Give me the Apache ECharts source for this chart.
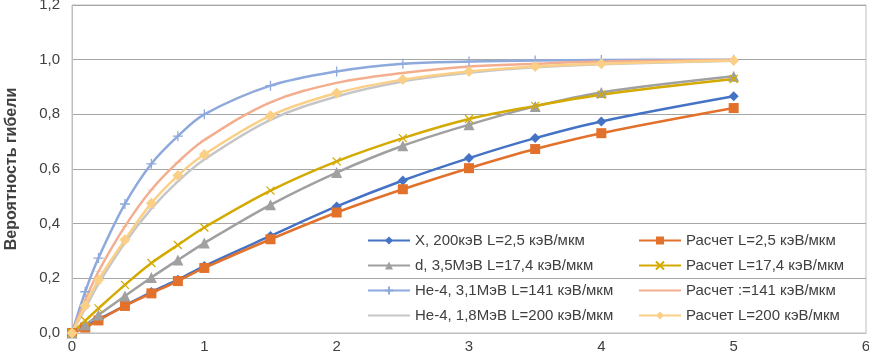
<!DOCTYPE html>
<html>
<head>
<meta charset="utf-8">
<script src="https://cdn.jsdelivr.net/npm/echarts@6.0.0/dist/echarts.min.js"></script>
<style>
  html, body { margin: 0; padding: 0; background: #fff; }
  #chart { width: 869px; height: 356px; }
</style>
</head>
<body>
<div id="chart"></div>
<script>
// доза / точки по оси X
const xValues = [0, 0.1, 0.2, 0.4, 0.6, 0.8, 1, 1.5, 2, 2.5, 3, 3.5, 4, 5];

// эксперимент и расчет
const xray200 = [0, 0.025, 0.05, 0.10, 0.15, 0.195, 0.245, 0.355, 0.463, 0.558, 0.640, 0.713, 0.774, 0.866];
const calc25 = [0, 0.020, 0.046, 0.099, 0.145, 0.190, 0.238, 0.343, 0.441, 0.526, 0.603, 0.673, 0.731, 0.823];
const deut35 = [0, 0.030, 0.066, 0.135, 0.203, 0.267, 0.329, 0.469, 0.587, 0.685, 0.762, 0.829, 0.880, 0.939];
const calc174 = [0, 0.045, 0.090, 0.176, 0.256, 0.322, 0.386, 0.521, 0.628, 0.713, 0.783, 0.831, 0.872, 0.929];
const he31 = [0, 0.151, 0.274, 0.472, 0.619, 0.720, 0.800, 0.905, 0.957, 0.985, 0.993, 0.997, 0.999, 1.0];
const calc141 = [0, 0.120, 0.225, 0.390, 0.524, 0.625, 0.706, 0.844, 0.915, 0.951, 0.975, 0.985, 0.993, 0.999];
const he18 = [0, 0.090, 0.180, 0.330, 0.455, 0.555, 0.635, 0.780, 0.865, 0.920, 0.952, 0.972, 0.983, 0.996];
const calc200 = [0, 0.100, 0.194, 0.341, 0.475, 0.576, 0.653, 0.795, 0.878, 0.927, 0.957, 0.975, 0.985, 0.997];

const yTicks = [0, 0.2, 0.4, 0.6, 0.8, 1.0, 1.2];
const xTicks = [0, 1, 2, 3, 4, 5, 6];

const FONT = '"Liberation Sans", Arial, sans-serif';
const CROSS = 'path://M0,0L10,10M10,0L0,10';
const PLUS = 'path://M5,0L5,10M0,5L10,5';
// короткая черточка (заливка, чтобы не было нулевой высоты)
const DASH = 'path://M0,0L10,0L10,2L0,2Z';

function pairs(ys) {
    return xValues.map((x, i) => [x, ys[i]]);
}

function mkSeries(name, ys, color, symbol, size, opts) {
    opts = opts || {};
    return {
        name: name,
        type: 'line',
        smooth: 0.35,
        data: pairs(ys),
        symbol: symbol,
        symbolSize: size,
        symbolKeepAspect: !!opts.keep,
        showSymbol: true,
        lineStyle: { color: color, width: opts.width || 2.5 },
        itemStyle: opts.stroke
            ? { color: color, borderColor: color, borderWidth: 1.3 }
            : { color: color, borderColor: color, borderWidth: 0 },
        emphasis: { disabled: true },
        animation: false
    };
}

const series = [
    mkSeries('X, 200кэВ L=2,5 кэВ/мкм', xray200, '#4472C4', 'diamond', 10),
    mkSeries('Расчет L=2,5 кэВ/мкм', calc25, '#E2712C', 'rect', 10),
    mkSeries('d, 3,5МэВ L=17,4 кэВ/мкм', deut35, '#A0A0A0', 'triangle', 11),
    mkSeries('Расчет L=17,4 кэВ/мкм', calc174, '#D4AA00', CROSS, 8, { stroke: true }),
    mkSeries('He-4, 3,1МэВ L=141 кэВ/мкм', he31, '#8EA9DB', PLUS, 10, { stroke: true }),
    mkSeries('Расчет :=141 кэВ/мкм', calc141, '#F2AE8E', DASH, [8, 2], { keep: true }),
    mkSeries('He-4, 1,8МэВ L=200 кэВ/мкм', he18, '#C6C6C6', DASH, [8, 2], { keep: true }),
    mkSeries('Расчет L=200 кэВ/мкм', calc200, '#FBCF86', 'diamond', 11)
];

// в легенде у этих двух серий маркер не виден
function noMarker(name) {
    return { name: name, itemStyle: { opacity: 0 } };
}

const legendBase = {
    orient: 'vertical',
    padding: 0,
    itemWidth: 42,
    itemHeight: 10,
    itemGap: 10,
    textStyle: { fontFamily: FONT, fontSize: 15, color: '#404040' },
    selectedMode: false
};

const option = {
    animation: false,
    textStyle: { fontFamily: FONT },
    grid: {
        left: 72, right: 3, top: 5, bottom: 23,
        outerBoundsMode: 'none',
        containLabel: false,
        show: true, borderColor: '#BFBFBF', borderWidth: 1
    },
    legend: [
        Object.assign({}, legendBase, {
            left: 367, top: 233,
            data: [series[0].name, series[2].name, series[4].name, noMarker(series[6].name)]
        }),
        Object.assign({}, legendBase, {
            left: 638, top: 233,
            data: [series[1].name, series[3].name, noMarker(series[5].name), series[7].name]
        })
    ],
    xAxis: {
        type: 'value',
        min: xTicks[0], max: xTicks[xTicks.length - 1], interval: 1,
        axisLine: { show: true, lineStyle: { color: '#BFBFBF' } },
        axisTick: { show: false },
        splitLine: { show: false },
        axisLabel: {
            color: '#404040', fontSize: 15, fontFamily: FONT, margin: 6,
            formatter: v => String(v)
        }
    },
    yAxis: {
        type: 'value',
        min: yTicks[0], max: yTicks[yTicks.length - 1], interval: 0.2,
        name: 'Вероятность гибели',
        nameLocation: 'middle',
        nameGap: 52,
        nameTextStyle: { fontFamily: FONT, fontSize: 16, fontWeight: 'bold', color: '#404040' },
        axisLine: { show: true, lineStyle: { color: '#BFBFBF' } },
        axisTick: { show: false },
        splitLine: { show: true, lineStyle: { color: '#A6A6A6' } },
        axisLabel: {
            color: '#404040', fontSize: 15, fontFamily: FONT, margin: 12,
            formatter: v => v.toFixed(1).replace('.', ',')
        }
    },
    series: series
};

const chart = echarts.init(document.getElementById('chart'), null, { renderer: 'canvas' });
chart.setOption(option);
</script>
</body>
</html>
